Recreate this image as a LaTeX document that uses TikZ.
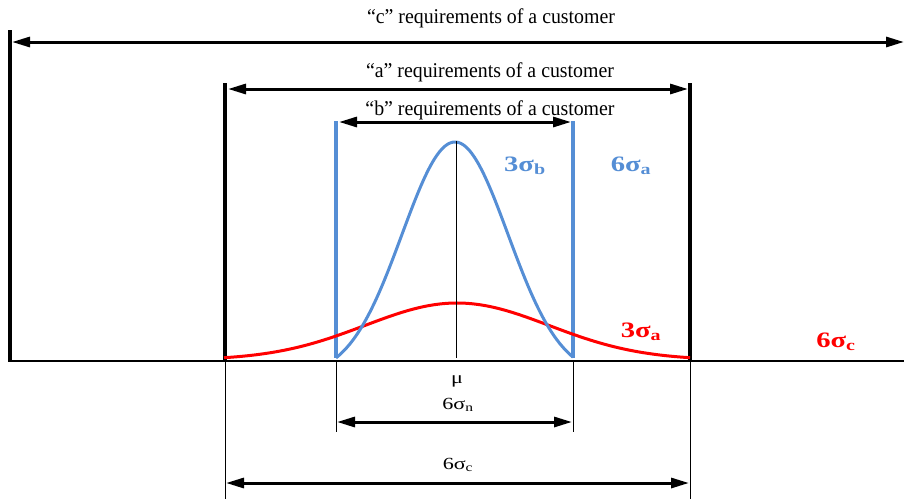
\documentclass[tikz,border=0pt]{standalone}
\usepackage{fontspec}
\setmainfont{Liberation Serif}
\usepackage{xcolor}
\usepackage{graphicx}
\usepackage{tikz}
\usetikzlibrary{arrows.meta}
\definecolor{sgblue}{RGB}{85,142,213}
\definecolor{sgred}{RGB}{255,0,0}
\newcommand{\widetext}[2]{\scalebox{#1}[1]{#2}}

\begin{document}
\begin{tikzpicture}[x=1pt,y=-1pt,
    dimarrow/.style={line width=3pt,{Triangle[length=18pt,width=10pt]}-{Triangle[length=18pt,width=10pt]}},
    reqlabel/.style={font=\fontsize{21}{23}\selectfont,inner sep=0pt},
    siglabel/.style={font=\fontsize{22}{24}\selectfont\bfseries,inner sep=0pt},
    smalllabel/.style={font=\fontsize{17}{19}\selectfont,inner sep=0pt}]
        \useasboundingbox (0,0) rectangle (904,499);
        % limits of the customer requirements
        \coordinate (cL) at (10,30);   \coordinate (cLb) at (10,362);
        \coordinate (aL) at (225,83);  \coordinate (aLb) at (225,362);
        \coordinate (aR) at (690,83);  \coordinate (aRb) at (690,362);
        \coordinate (bL) at (336,121); \coordinate (bLb) at (336,358);
        \coordinate (bR) at (573,121); \coordinate (bRb) at (573,358);
        \draw[line width=4pt] (cL) -- (cLb);
        \draw[line width=4pt] (aL) -- (aLb);
        \draw[line width=4pt] (aR) -- (aRb);
        \draw[sgblue,line width=4pt] (bL) -- (bLb);
        \draw[sgblue,line width=4pt] (bR) -- (bRb);
        % base line and extension lines
        \coordinate (base0) at (10,361); \coordinate (base1) at (904,361);
        \draw[line width=1.6pt] (base0) -- (base1);
        \draw[line width=0.9pt] (aLb) -- (225,499);
        \draw[line width=0.9pt] (aRb) -- (690,499);
        \draw[line width=0.9pt] (336,362) -- (336,432);
        \draw[line width=0.9pt] (573,362) -- (573,432);
        % requirement arrows
        \coordinate (c1) at (12,42);   \coordinate (c2) at (904,42);
        \coordinate (a1) at (228,89);  \coordinate (a2) at (688,89);
        \coordinate (b1) at (339,122); \coordinate (b2) at (571,122);
        \draw[dimarrow] (c1) -- (c2);
        \draw[dimarrow] (a1) -- (a2);
        \draw[dimarrow] (b1) -- (b2);
        \node[reqlabel] (creq) at (491,18) {\widetext{0.945}{“c” requirements of a customer}};
        \node[reqlabel] (areq) at (490,72) {\widetext{0.945}{“a” requirements of a customer}};
        \node[reqlabel] (breq) at (490,110) {\widetext{0.945}{“b” requirements of a customer}};
        % distributions
        \draw[sgred,line width=3pt] plot[domain=-233:233,samples=90,smooth]
            ({457+\x},{360-57*exp(-(\x/92)^2/2)});
        \draw[sgblue,line width=3pt] plot[domain=-119:118,samples=90,smooth]
            ({455+\x},{358-216*(exp(-(\x/53)^2/2)-0.08)/0.92});
        \coordinate (mutop) at (456,141); \coordinate (mubot) at (456,358);
        \draw[line width=1pt] (mutop) -- (mubot);
        \node[siglabel,sgblue] (sb) at (525,166) {\widetext{1.3}{3σ\textsubscript{b}}};
        \node[siglabel,sgblue] (sa) at (631,166) {\widetext{1.3}{6σ\textsubscript{a}}};
        \node[siglabel,sgred] (sra) at (641,332) {\widetext{1.3}{3σ\textsubscript{a}}};
        \node[siglabel,sgred] (src) at (836,342) {\widetext{1.3}{6σ\textsubscript{c}}};
        % lower dimensions
        \node[smalllabel] (mu) at (457,381) {\widetext{1.3}{μ}};
        \node[smalllabel] (sn) at (458,405) {\widetext{1.3}{6σ\textsubscript{n}}};
        \node[smalllabel] (sc) at (458,465) {\widetext{1.3}{6σ\textsubscript{c}}};
        \coordinate (n1) at (337,422); \coordinate (n2) at (572,422);
        \coordinate (m1) at (226,483); \coordinate (m2) at (689,483);
        \draw[dimarrow] (n1) -- (n2);
        \draw[dimarrow] (m1) -- (m2);
      \end{tikzpicture}
\end{document}
